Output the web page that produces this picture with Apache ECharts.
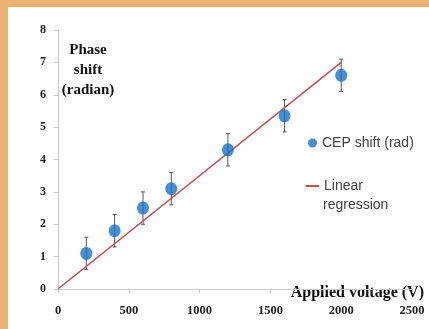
<!DOCTYPE html>
<html><head><meta charset="utf-8">
<script src="https://cdn.jsdelivr.net/npm/echarts@6/dist/echarts.min.js"></script>
<style>
html,body{margin:0;padding:0;background:#ebb177;width:429px;height:329px;overflow:hidden}
#c{position:absolute;left:8px;top:7px;width:421px;height:322px;background:#fff}
</style></head><body><div id="c"></div>
<script>
var voltages = [200, 400, 600, 800, 1200, 1600, 2000];
var phaseShift = [1.1, 1.8, 2.5, 3.1, 4.3, 5.35, 6.6];
var errors = [0.5, 0.5, 0.5, 0.5, 0.5, 0.5, 0.5];
var regressionX = [0, 2000];
var regressionY = [0, 7.0];
var xTicks = [0, 500, 1000, 1500, 2000, 2500];
var yTicks = [0, 1, 2, 3, 4, 5, 6, 7, 8];

var chart = echarts.init(document.getElementById('c'), null, {renderer:'canvas'});
var serif = '"Liberation Serif","Times New Roman",serif';
var sans = '"Liberation Sans",Arial,sans-serif';
var pts = voltages.map(function(v,i){return [v, phaseShift[i]];});
var errData = voltages.map(function(v,i){return [v, phaseShift[i]-errors[i], phaseShift[i]+errors[i]];});
var lineData = regressionX.map(function(v,i){return [v, regressionY[i]];});

chart.setOption({
  animation:false,
  grid:{left:50, top:23, right:17, bottom:40},
  xAxis:{type:'value', min:0, max:2500, interval:500,
    axisLine:{lineStyle:{color:'#c8c8c8'}},
    axisTick:{show:true, length:4, lineStyle:{color:'#c8c8c8'}},
    splitLine:{show:false},
    axisLabel:{margin:15, color:'#222', fontFamily:serif, fontWeight:'bold', fontSize:12.5,
      formatter:function(v){return xTicks.indexOf(v)>=0?String(v):'';}}
  },
  yAxis:{type:'value', min:0, max:8, interval:1,
    axisLine:{show:true, lineStyle:{color:'#c8c8c8'}},
    axisTick:{show:true, length:4, lineStyle:{color:'#c8c8c8'}},
    splitLine:{show:false},
    axisLabel:{margin:12, color:'#222', fontFamily:serif, fontWeight:'bold', fontSize:12,
      formatter:function(v){return yTicks.indexOf(v)>=0?String(v):'';}}
  },
  legend:[{
    data:[{name:'CEP shift (rad)', icon:'circle'}],
    left:295, top:124, itemWidth:9, itemHeight:9, itemGap:4,
    textStyle:{fontFamily:sans, fontSize:14, color:'#404040'}
  },{
    data:[{name:'Linear regression'}],
    left:292, top:167, itemWidth:13, itemHeight:2, itemGap:3,
    formatter:function(){return 'Linear';},
    textStyle:{fontFamily:sans, fontSize:14, color:'#404040'}
  }],
  graphic:[
    {type:'text', x:80, y:33, style:{text:'Phase\nshift\n(radian)', fontFamily:serif, fontWeight:'bold', fontSize:15, fill:'#111', align:'center', verticalAlign:'top', lineHeight:20}},
    {type:'text', x:315, y:198, style:{text:'regression', fontFamily:sans, fontSize:14, fill:'#404040', align:'left', verticalAlign:'middle'}},
    {type:'text', x:416, y:286, style:{text:'Applied voltage (V)', fontFamily:serif, fontWeight:'bold', fontSize:16, fill:'#111', align:'right', verticalAlign:'middle'}}
  ],
  series:[
    {name:'Linear regression', type:'line', data:lineData, symbol:'none',
      lineStyle:{color:'#c0504d', width:1.5}, itemStyle:{color:'#c0504d'}, z:3},
    {name:'errorbars', type:'custom', data:errData, z:2,
      renderItem:function(params, api){
        var x = api.value(0);
        var lo = api.coord([x, api.value(1)]);
        var hi = api.coord([x, api.value(2)]);
        var w = 2;
        var st = {stroke:'#555', lineWidth:1};
        return {type:'group', children:[
          {type:'line', shape:{x1:lo[0],y1:lo[1],x2:hi[0],y2:hi[1]}, style:st},
          {type:'line', shape:{x1:lo[0]-w,y1:lo[1],x2:lo[0]+w,y2:lo[1]}, style:st},
          {type:'line', shape:{x1:hi[0]-w,y1:hi[1],x2:hi[0]+w,y2:hi[1]}, style:st}
        ]};
      }},
    {name:'CEP shift (rad)', type:'scatter', data:pts, symbol:'circle', symbolSize:[12,13],
      itemStyle:{color:'#1b72c4'}, z:4}
  ]
});
</script></body></html>
